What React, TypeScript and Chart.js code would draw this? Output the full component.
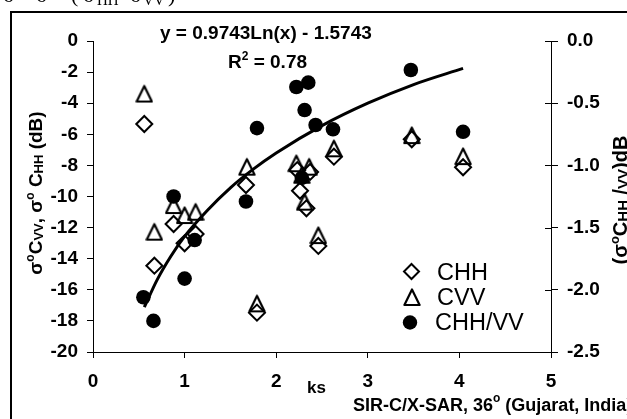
import React, { useEffect, useRef } from 'react';
import { Chart, registerables } from 'chart.js';

Chart.register(...registerables);

// ---- Data ----
const ksCHH = [0.56, 0.67, 0.88, 1.0, 1.12, 1.67, 1.79, 2.23, 2.26, 2.37, 2.33, 2.46, 2.63, 3.48, 4.04];
const sigmaCHH = [-5.34, -14.45, -11.77, -13.01, -12.41, -9.26, -17.47, -8.3, -9.63, -8.42, -10.76, -13.18, -7.44, -6.32, -8.12];

const ksCVV = [0.56, 0.67, 0.88, 1.0, 1.12, 1.68, 1.79, 2.22, 2.36, 2.31, 2.28, 2.46, 2.63, 3.48, 4.04];
const sigmaCVV = [-3.38, -12.26, -10.55, -11.19, -10.98, -8.08, -16.87, -7.86, -8.08, -10.33, -8.6, -12.48, -6.9, -6.05, -7.4];

const ksRatio = [0.55, 0.66, 0.88, 1.0, 1.11, 1.67, 1.79, 2.22, 2.35, 2.31, 2.28, 2.43, 2.62, 3.47, 4.04];
const ratioHHVV = [-2.06, -2.25, -1.25, -1.91, -1.6, -1.29, -0.7, -0.37, -0.335, -0.555, -1.1, -0.675, -0.71, -0.233, -0.73];

// trend line points
const trendKs = [0.56, 0.7, 0.85, 1.0, 1.25, 1.5, 1.75, 2.0, 2.5, 3.0, 3.5, 4.04];
const trendRatio = [-2.14, -1.92, -1.73, -1.57, -1.36, -1.18, -1.03, -0.9, -0.68, -0.5, -0.35, -0.22];

const legendLabels = ['CHH', 'CVV', 'CHH/VV'];
const equationText = 'y = 0.9743Ln(x) - 1.5743';
const r2Value = ' = 0.78';
const xAxisTitle = 'ks';
const sourceMain = 'SIR-C/X-SAR, 36';
const sourceRest = ' (Gujarat, India)';

const SANS = "'Liberation Sans', Arial, sans-serif";
const SERIF = "'Liberation Serif', 'Times New Roman', serif";

type Seg = { t: string; size: number; dy?: number; weight?: string; family?: string };

function setFont(ctx: CanvasRenderingContext2D, s: Seg) {
  ctx.font = `${s.weight ?? 'bold'} ${s.size}px ${s.family ?? SANS}`;
}
function measureRich(ctx: CanvasRenderingContext2D, segs: Seg[]) {
  let w = 0;
  for (const s of segs) {
    setFont(ctx, s);
    w += ctx.measureText(s.t).width;
  }
  return w;
}
function drawRich(ctx: CanvasRenderingContext2D, segs: Seg[], x: number, y: number) {
  let cx = x;
  for (const s of segs) {
    setFont(ctx, s);
    ctx.fillText(s.t, cx, y + (s.dy ?? 0));
    cx += ctx.measureText(s.t).width;
  }
}

function makeTriangle(): HTMLCanvasElement {
  const c = document.createElement('canvas');
  c.width = 18;
  c.height = 20;
  const ctx = c.getContext('2d')!;
  ctx.strokeStyle = '#000';
  ctx.lineWidth = 2.2;
  ctx.lineJoin = 'round';
  ctx.beginPath();
  ctx.moveTo(9, 2.5);
  ctx.lineTo(16.6, 18);
  ctx.lineTo(1.4, 18);
  ctx.closePath();
  ctx.stroke();
  return c;
}

function drawDiamond(ctx: CanvasRenderingContext2D, x: number, y: number, r: number) {
  ctx.beginPath();
  ctx.moveTo(x, y - r);
  ctx.lineTo(x + r, y);
  ctx.lineTo(x, y + r);
  ctx.lineTo(x - r, y);
  ctx.closePath();
  ctx.stroke();
}

export default function App() {
  const ref = useRef<HTMLCanvasElement | null>(null);

  useEffect(() => {
    if (!ref.current) return;
    const tri = makeTriangle();

    const decor = {
      id: 'decor',
      beforeDraw(chart: any) {
        const ctx: CanvasRenderingContext2D = chart.ctx;
        ctx.save();
        ctx.fillStyle = '#fff';
        ctx.fillRect(0, 0, chart.width, chart.height);
        // cut-off caption above frame
        ctx.fillStyle = '#000';
        ctx.textBaseline = 'alphabetic';
        ctx.textAlign = 'left';
        const main = (t: string, x: number) => {
          ctx.font = `22px ${SERIF}`;
          ctx.fillText(t, x, 1.5);
        };
        const sub = (t: string, x: number) => {
          ctx.font = `15px ${SERIF}`;
          ctx.fillText(t, x, 4.5);
        };
        main('σ', 3);
        main('σ', 36);
        main('(', 71);
        main('σ', 83);
        sub('HH', 97);
        main('σ', 130);
        sub('VV', 143);
        main(')', 168);
        // outer frame
        ctx.strokeStyle = '#000';
        ctx.lineWidth = 2;
        ctx.strokeRect(11, 12, chart.width + 40, chart.height + 40);
        ctx.restore();
      },
      afterDraw(chart: any) {
        const ctx: CanvasRenderingContext2D = chart.ctx;
        const area = chart.chartArea;
        ctx.save();
        ctx.fillStyle = '#000';
        ctx.strokeStyle = '#000';
        ctx.textAlign = 'left';
        ctx.textBaseline = 'alphabetic';

        // inner half of right-axis ticks
        const y2 = chart.scales.y2;
        ctx.lineWidth = 1;
        for (const t of y2.ticks) {
          const py = Math.round(y2.getPixelForValue(t.value)) + 0.5;
          ctx.beginPath();
          ctx.moveTo(area.right - 6, py);
          ctx.lineTo(area.right, py);
          ctx.stroke();
        }

        // equation and R²
        ctx.font = `bold 19px ${SANS}`;
        ctx.fillText(equationText, 160, 39);
        drawRich(ctx, [
          { t: 'R', size: 19 },
          { t: '2', size: 12, dy: -8 },
          { t: r2Value, size: 19 },
        ], 228, 68);

        // x axis title and source
        ctx.font = `bold 17px ${SANS}`;
        ctx.fillText(xAxisTitle, 307, 393);
        drawRich(ctx, [
          { t: sourceMain, size: 18 },
          { t: 'o', size: 12, dy: -9 },
          { t: sourceRest, size: 18 },
        ], 353, 411);

        // left y title
        const leftSegs: Seg[] = [
          { t: 'σ', size: 19 },
          { t: 'o', size: 12, dy: -8 },
          { t: 'C', size: 19 },
          { t: 'VV', size: 13, dy: 1 },
          { t: ', σ', size: 19 },
          { t: 'o', size: 12, dy: -8 },
          { t: ' C', size: 19 },
          { t: 'HH', size: 13, dy: 1 },
          { t: ' (dB)', size: 19 },
        ];
        ctx.save();
        ctx.translate(35, 193);
        ctx.rotate(-Math.PI / 2);
        const lw = measureRich(ctx, leftSegs);
        drawRich(ctx, leftSegs, -lw / 2, 7);
        ctx.restore();

        // right y title
        const rightSegs: Seg[] = [
          { t: '(σ', size: 20 },
          { t: 'o', size: 13, dy: -8 },
          { t: 'C', size: 20 },
          { t: 'HH', size: 15, dy: 1 },
          { t: ' /', size: 20 },
          { t: 'VV', size: 15, dy: 1 },
          { t: ')dB', size: 20 },
        ];
        ctx.save();
        ctx.translate(620, 200);
        ctx.rotate(-Math.PI / 2);
        const rw = measureRich(ctx, rightSegs);
        drawRich(ctx, rightSegs, -rw / 2, 7);
        ctx.restore();

        // legend
        ctx.lineWidth = 2;
        drawDiamond(ctx, 411.5, 271.5, 7.5);
        ctx.drawImage(tri, 403, 287);
        ctx.beginPath();
        ctx.arc(410, 322.5, 7.2, 0, Math.PI * 2);
        ctx.fill();
        ctx.font = `23.5px ${SANS}`;
        ctx.fillText(legendLabels[0], 437, 280);
        ctx.fillText(legendLabels[1], 437, 305);
        ctx.fillText(legendLabels[2], 435, 330);
        ctx.restore();
      },
    };

    const tickFont = { family: SANS, size: 19, weight: 'bold' as const };

    const chart = new Chart(ref.current, {
      type: 'scatter',
      data: {
        datasets: [
          {
            type: 'line',
            label: 'trend',
            data: trendKs.map((x, i) => ({ x, y: trendRatio[i] })),
            yAxisID: 'y2',
            borderColor: '#000',
            borderWidth: 3,
            pointRadius: 0,
            cubicInterpolationMode: 'monotone',
            fill: false,
          } as any,
          {
            label: legendLabels[2],
            data: ksRatio.map((x, i) => ({ x, y: ratioHHVV[i] })),
            yAxisID: 'y2',
            pointStyle: 'circle',
            pointRadius: 7.3,
            backgroundColor: '#000',
            borderColor: '#000',
            borderWidth: 0,
          },
          {
            label: legendLabels[1],
            data: ksCVV.map((x, i) => ({ x, y: sigmaCVV[i] })),
            yAxisID: 'y',
            pointStyle: tri,
            pointRadius: 8,
          },
          {
            label: legendLabels[0],
            data: ksCHH.map((x, i) => ({ x, y: sigmaCHH[i] })),
            yAxisID: 'y',
            pointStyle: 'rectRot',
            pointRadius: 8,
            backgroundColor: 'rgba(0,0,0,0)',
            borderColor: '#000',
            borderWidth: 2,
          },
        ],
      },
      options: {
        animation: false,
        responsive: false,
        events: [],
        layout: { padding: { top: 41, left: 0, right: 0, bottom: 0 } },
        plugins: { legend: { display: false }, tooltip: { enabled: false } },
        scales: {
          x: {
            type: 'linear',
            min: 0,
            max: 5,
            ticks: { stepSize: 1, color: '#000', font: tickFont, padding: 12 },
            grid: { drawOnChartArea: false, color: '#000', tickLength: 6 },
            border: { color: '#000', width: 1 },
            afterFit: (s: any) => { s.height = 67; },
          },
          y: {
            type: 'linear',
            position: 'left',
            min: -20,
            max: 0,
            ticks: { stepSize: 2, color: '#000', font: tickFont, padding: 9 },
            grid: { drawOnChartArea: false, color: '#000', tickLength: 6 },
            border: { color: '#000', width: 1 },
            afterFit: (s: any) => { s.width = 93; },
          },
          y2: {
            type: 'linear',
            position: 'right',
            min: -2.5,
            max: 0,
            ticks: {
              stepSize: 0.5,
              color: '#000',
              font: tickFont,
              padding: 9,
              callback: (v: any) => Number(v).toFixed(1),
            },
            grid: { drawOnChartArea: false, color: '#000', tickLength: 7 },
            border: { color: '#000', width: 1 },
            afterFit: (s: any) => { s.width = 76; },
          },
        },
      },
      plugins: [decor],
    });

    return () => chart.destroy();
  }, []);

  return (
    <div style={{ position: 'absolute', left: 0, top: 0, width: 627, height: 419, overflow: 'hidden', background: '#fff' }}>
      <canvas ref={ref} width={627} height={419} style={{ display: 'block', width: 627, height: 419 }} />
    </div>
  );
}
